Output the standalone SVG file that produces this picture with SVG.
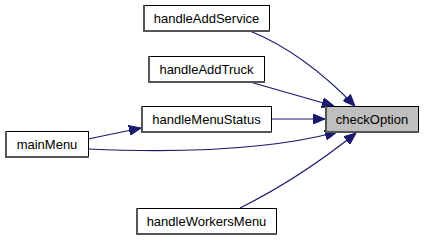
<svg xmlns="http://www.w3.org/2000/svg" width="425" height="240" viewBox="0 0 425 240">
  <style>
    .box { fill: #ffffff; stroke: #000000; stroke-width: 1; }
    .hl { fill: #bfbfbf; }
    .shade { fill: none; stroke: #555555; stroke-width: 2; }
    .lbl { font-family: "Liberation Sans", Arial, sans-serif; font-size: 13px; fill: #000000; text-anchor: middle; }
    .edge { fill: none; stroke: #191970; stroke-width: 1.2; }
  </style>
  <defs>
    <marker id="arr" viewBox="0 0 12 10" refX="12" refY="5" markerWidth="12" markerHeight="10" markerUnits="userSpaceOnUse" orient="auto">
      <path d="M0,0 L12,5 L0,10 z" fill="#191970" stroke="#191970"/>
    </marker>
  </defs>
  <rect width="425" height="240" fill="#ffffff"/>

  <g id="edges">
    <path class="edge" d="M250,31 C285,45 320,70 355,106" marker-end="url(#arr)"/>
    <path class="edge" d="M250,82 L334,106" marker-end="url(#arr)"/>
    <path class="edge" d="M272,119 L325,119" marker-end="url(#arr)"/>
    <path class="edge" d="M88,139 L141,128" marker-end="url(#arr)"/>
    <path class="edge" d="M88,149 C180,153 270,150 337,132" marker-end="url(#arr)"/>
    <path class="edge" d="M240,208 C280,188 320,162 356,133" marker-end="url(#arr)"/>
  </g>

  <g id="node-handleAddService">
    <rect class="box" x="143.5" y="5.5" width="126" height="26"/>
    <polyline class="shade" points="144,5 144,31 270,31"/>
    <text class="lbl" x="206.5" y="23">handleAddService</text>
  </g>
  <g id="node-handleAddTruck">
    <rect class="box" x="148.5" y="56.5" width="116" height="26"/>
    <polyline class="shade" points="149,56 149,82 265,82"/>
    <text class="lbl" x="206.5" y="74">handleAddTruck</text>
  </g>
  <g id="node-handleMenuStatus">
    <rect class="box" x="141.5" y="106.5" width="130" height="26"/>
    <polyline class="shade" points="142,106 142,132 272,132"/>
    <text class="lbl" x="206.5" y="124">handleMenuStatus</text>
  </g>
  <g id="node-checkOption">
    <rect class="box hl" x="325.5" y="106.5" width="93" height="26"/>
    <polyline class="shade" points="326,106 326,132 419,132"/>
    <text class="lbl" x="372" y="124">checkOption</text>
  </g>
  <g id="node-mainMenu">
    <rect class="box" x="5.5" y="131.5" width="83" height="26"/>
    <polyline class="shade" points="6,131 6,157 89,157"/>
    <text class="lbl" x="47" y="149">mainMenu</text>
  </g>
  <g id="node-handleWorkersMenu">
    <rect class="box" x="136.5" y="208.5" width="140" height="26"/>
    <polyline class="shade" points="137,208 137,234 277,234"/>
    <text class="lbl" x="206.5" y="226">handleWorkersMenu</text>
  </g>
</svg>
